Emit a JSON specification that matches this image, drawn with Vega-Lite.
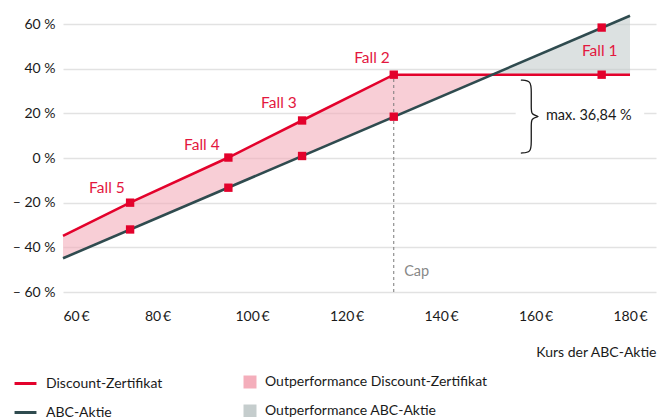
{
  "$schema": "https://vega.github.io/schema/vega-lite/v6.json",
  "width": 593,
  "height": 268,
  "autosize": "none",
  "padding": {"left": 63, "top": 24, "right": 14, "bottom": 125},
  "config": {
    "font": "Lato",
    "view": {"stroke": null},
    "axis": {"labelColor": "#1a1a1a", "labelFontSize": 14, "gridColor": "#e2e2e2", "gridWidth": 1.5, "domain": false, "ticks": false, "titleFontWeight": "normal", "titleFontSize": 14, "titleColor": "#1a1a1a"},
    "legend": {"labelFontSize": 14, "labelColor": "#1a1a1a", "title": null, "labelLimit": 0}
  },
  "datasets": {
    "lines": [
      {"series": "Discount-Zertifikat", "x": 60, "y": -34.9},
      {"series": "Discount-Zertifikat", "x": 74.2, "y": -20.0},
      {"series": "Discount-Zertifikat", "x": 95, "y": 0.2},
      {"series": "Discount-Zertifikat", "x": 110.6, "y": 16.8},
      {"series": "Discount-Zertifikat", "x": 130, "y": 37.3},
      {"series": "Discount-Zertifikat", "x": 180, "y": 37.3},
      {"series": "ABC-Aktie", "x": 60, "y": -44.9},
      {"series": "ABC-Aktie", "x": 180, "y": 63.7}
    ],
    "areas": [
      {"series": "Outperformance Discount-Zertifikat", "x": 60, "y": -34.9, "y2": -44.9},
      {"series": "Outperformance Discount-Zertifikat", "x": 74.2, "y": -20.0, "y2": -32.0},
      {"series": "Outperformance Discount-Zertifikat", "x": 95, "y": 0.2, "y2": -13.3},
      {"series": "Outperformance Discount-Zertifikat", "x": 110.6, "y": 16.8, "y2": 0.9},
      {"series": "Outperformance Discount-Zertifikat", "x": 130, "y": 37.3, "y2": 18.5},
      {"series": "Outperformance Discount-Zertifikat", "x": 150.5, "y": 37.3, "y2": 37.3},
      {"series": "Outperformance ABC-Aktie", "x": 150.5, "y": 37.3, "y2": 37.3},
      {"series": "Outperformance ABC-Aktie", "x": 174, "y": 37.3, "y2": 58.4},
      {"series": "Outperformance ABC-Aktie", "x": 180, "y": 37.3, "y2": 63.7}
    ],
    "markers": [
      {"x": 74.2, "y": -20.0}, {"x": 95, "y": 0.2}, {"x": 110.6, "y": 16.8}, {"x": 130, "y": 37.3}, {"x": 174, "y": 37.3},
      {"x": 74.2, "y": -32.0}, {"x": 95, "y": -13.3}, {"x": 110.6, "y": 0.9}, {"x": 130, "y": 18.5}, {"x": 174, "y": 58.4}
    ],
    "falls": [
      {"label": "Fall 1", "x": 173.6, "y": 48.1},
      {"label": "Fall 2", "x": 125.4, "y": 44.8},
      {"label": "Fall 3", "x": 105.7, "y": 24.6},
      {"label": "Fall 4", "x": 89.4, "y": 5.8},
      {"label": "Fall 5", "x": 69.3, "y": -13.4}
    ],
    "cap": [{"label": "Cap", "x": 132.2, "y": -50.9}],
    "caprule": [{"x": 130, "y": -60, "y2": 37.3}],
    "maxlabel": [{"label": "max. 36,84 %", "x": 162.2, "y": 18.9}],
    "mask": [{"x": 155.8, "x2": 183, "y": 17, "y2": 23}],
    "brace": [
      {"i": 0, "x": 156.9, "y": 34.9},
      {"i": 1, "x": 159.1, "y": 34.6},
      {"i": 2, "x": 159.1, "y": 30},
      {"i": 3, "x": 159.1, "y": 22},
      {"i": 4, "x": 159.1, "y": 19.6},
      {"i": 5, "x": 160.6, "y": 18.6},
      {"i": 6, "x": 160.6, "y": 18.6},
      {"i": 7, "x": 159.1, "y": 17.6},
      {"i": 8, "x": 159.1, "y": 15.2},
      {"i": 9, "x": 159.1, "y": 7},
      {"i": 10, "x": 159.1, "y": 2.5},
      {"i": 11, "x": 156.9, "y": 2.2}
    ]
  },
  "encoding": {
    "x": {"field": "x", "type": "quantitative", "scale": {"domain": [60, 185.5], "nice": false, "zero": false},
      "axis": {"values": [60, 80, 100, 120, 140, 160, 180], "grid": false, "labelPadding": 17, "labelExpr": "datum.value + '\u2009€'", "title": "Kurs der ABC-Aktie", "titleAnchor": "end", "titlePadding": 22}},
    "y": {"field": "y", "type": "quantitative", "scale": {"domain": [-60, 60], "nice": false, "zero": false},
      "axis": {"values": [-60, -40, -20, 0, 20, 40, 60], "grid": true, "labelPadding": 8, "title": null, "labelExpr": "datum.value < 0 ? '– ' + abs(datum.value) + ' %' : datum.value + ' %'"}}
  },
  "layer": [
    {
      "data": {"name": "areas"},
      "mark": {"type": "area", "opacity": 0.6},
      "encoding": {
        "y2": {"field": "y2"},
        "fill": {"field": "series", "type": "nominal",
          "scale": {"domain": ["Outperformance Discount-Zertifikat", "Outperformance ABC-Aktie"], "range": ["#f4aebb", "#c5cdcd"]},
          "legend": {"orient": "none", "legendX": 180, "legendY": 351, "direction": "vertical", "symbolType": "square", "symbolSize": 169, "symbolOpacity": 1, "symbolStrokeWidth": 0, "labelOffset": 8, "rowPadding": 15}}
      }
    },
    {
      "data": {"name": "mask"},
      "mark": {"type": "rect", "fill": "white"},
      "encoding": {"x2": {"field": "x2"}, "y2": {"field": "y2"}}
    },
    {
      "data": {"name": "caprule"},
      "mark": {"type": "rule", "stroke": "#7a7a7a", "strokeDash": [3, 3], "strokeWidth": 1},
      "encoding": {"y2": {"field": "y2"}}
    },
    {
      "data": {"name": "brace"},
      "mark": {"type": "line", "stroke": "#1a1a1a", "strokeWidth": 1.3, "interpolate": "basis"},
      "encoding": {"order": {"field": "i", "type": "quantitative"}}
    },
    {
      "data": {"name": "lines"},
      "mark": {"type": "line", "strokeWidth": 2.6},
      "encoding": {
        "stroke": {"field": "series", "type": "nominal",
          "scale": {"domain": ["Discount-Zertifikat", "ABC-Aktie"], "range": ["#e3022c", "#2f4b4f"]},
          "legend": {"orient": "none", "legendX": -50, "legendY": 347, "direction": "vertical", "symbolType": "stroke", "symbolSize": 480, "symbolStrokeWidth": 3, "labelOffset": 8, "rowPadding": 9}}
      }
    },
    {
      "data": {"name": "markers"},
      "mark": {"type": "point", "shape": "square", "filled": true, "size": 70, "color": "#e3022c", "opacity": 1}
    },
    {
      "data": {"name": "falls"},
      "mark": {"type": "text", "color": "#e3173e", "fontSize": 15.5, "align": "center", "baseline": "middle"},
      "encoding": {"text": {"field": "label"}}
    },
    {
      "data": {"name": "cap"},
      "mark": {"type": "text", "color": "#888888", "fontSize": 14.5, "align": "left", "baseline": "middle"},
      "encoding": {"text": {"field": "label"}}
    },
    {
      "data": {"name": "maxlabel"},
      "mark": {"type": "text", "color": "#1a1a1a", "fontSize": 14.5, "align": "left", "baseline": "middle"},
      "encoding": {"text": {"field": "label"}}
    }
  ]
}
